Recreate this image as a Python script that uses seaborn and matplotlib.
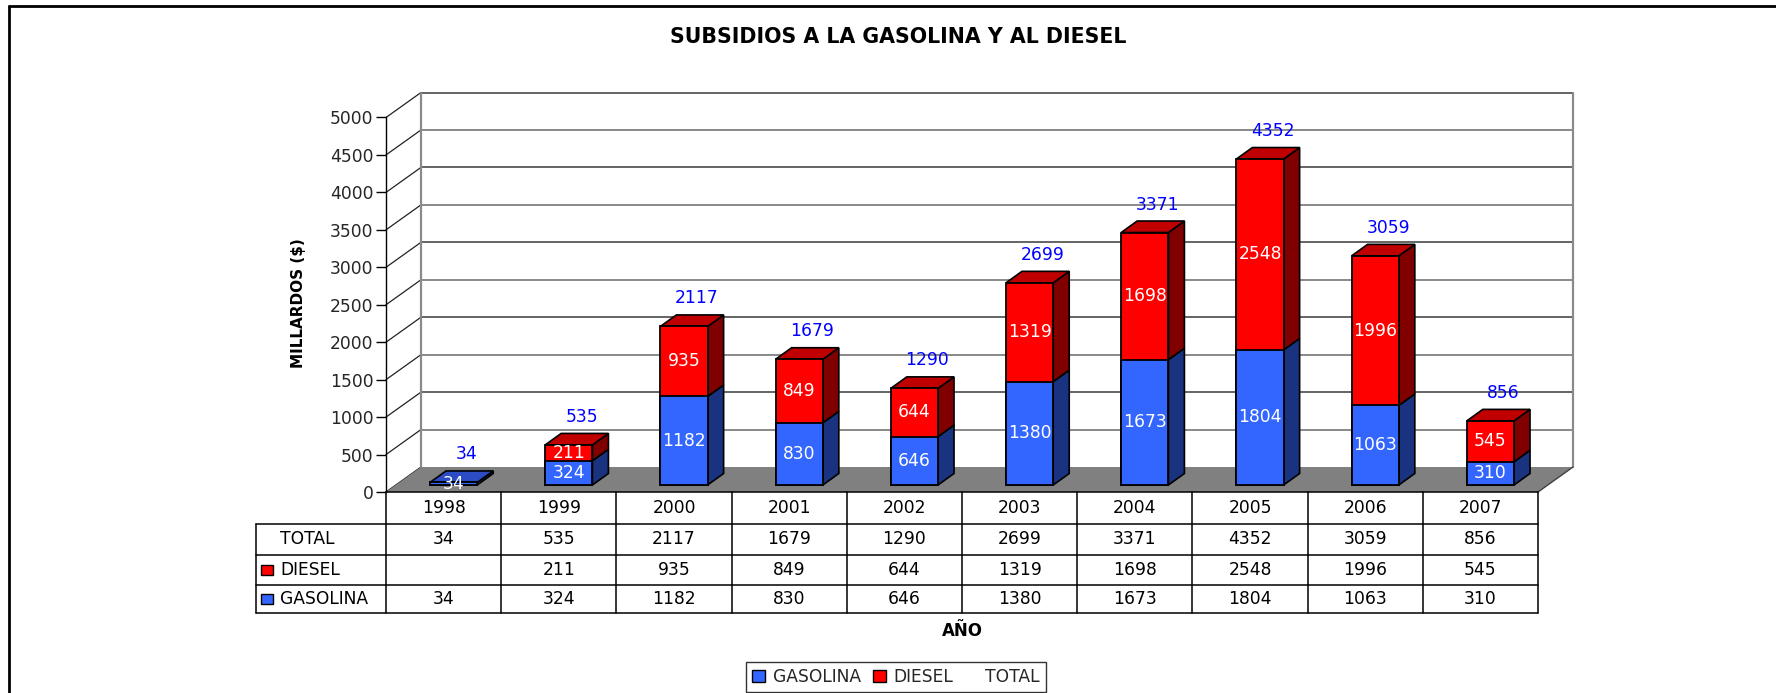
import numpy as np
import pandas as pd
import matplotlib
matplotlib.use("Agg")
import matplotlib.pyplot as plt
import seaborn as sns
from matplotlib.patches import Polygon, Patch, Rectangle
from matplotlib.lines import Line2D
import matplotlib.transforms as mtransforms

# ---------------- data ----------------
years = ["1998", "1999", "2000", "2001", "2002", "2003", "2004", "2005", "2006", "2007"]
gasolina = [34, 324, 1182, 830, 646, 1380, 1673, 1804, 1063, 310]
diesel = [0, 211, 935, 849, 644, 1319, 1698, 2548, 1996, 545]
total = [34, 535, 2117, 1679, 1290, 2699, 3371, 4352, 3059, 856]
yticks = list(range(0, 5001, 500))

# ---------------- style ----------------
sns.set_theme(style="white")
plt.rcParams["font.family"] = ["DejaVu Sans"]

W, H = 1776, 693
fig = plt.figure(figsize=(W / 100, H / 100), dpi=100)


def fx(px):
    return px / W


def fy(py):
    return 1 - py / H


# front plane of the plot area (pixels)
X0, X1 = 386, 1538
Y0, Y1 = 492, 117.5
ax = fig.add_axes([fx(X0), fy(Y0), fx(X1) - fx(X0), fy(Y1) - fy(Y0)])
ax.set_xlim(-0.5, 9.5)
ax.set_ylim(0, 5000)
ax.patch.set_alpha(0)

cat_px = (X1 - X0) / 10.0
val_px = (Y0 - Y1) / 5000.0
DX = 35 / cat_px          # floor depth in category units
DY = 25 / val_px          # floor depth in value units
BDX = 16 / cat_px         # bar depth
BDY = 11.5 / val_px
FOX, FOY = 10 / 100, 7 / 100   # front-face offset of bars (inches)

FS = 12.3

for s in ["top", "right", "bottom"]:
    ax.spines[s].set_visible(False)
ax.spines["left"].set_color("black")
ax.spines["left"].set_linewidth(1.0)
ax.set_yticks(yticks)
ax.set_yticklabels([str(v) for v in yticks], fontsize=FS)
ax.tick_params(axis="y", direction="out", length=7, width=1, color="black", pad=2, left=True)
ax.set_xticks([])
ax.set_xlabel("")
ax.set_ylabel("")

# floor
floor = Polygon([(-0.5, 0), (9.5, 0), (9.5 + DX, DY), (-0.5 + DX, DY)], closed=True,
                facecolor="#808080", edgecolor="none", zorder=0.5, clip_on=False)
ax.add_patch(floor)
ax.plot([9.5, 9.5 + DX], [0, DY], color="#404040", lw=1, clip_on=False, zorder=0.6)

# back wall gridlines + side wall diagonals
for i, v in enumerate(yticks):
    if v > 0:
        ax.plot([-0.5 + DX, 9.5 + DX], [v + DY, v + DY],
                color="#3a3a3a" if i % 2 == 0 else "#6a6a6a", lw=1.1, clip_on=False, zorder=0.4)
    ax.plot([-0.5, -0.5 + DX], [v, v + DY], color="#222222", lw=0.9, clip_on=False, zorder=0.4)
ax.plot([-0.5 + DX, -0.5 + DX], [DY, 5000 + DY], color="#8a8a8a", lw=1.6, clip_on=False, zorder=0.4)
ax.plot([9.5 + DX, 9.5 + DX], [DY, 5000 + DY], color="#8a8a8a", lw=1.6, clip_on=False, zorder=0.4)

# bars (front faces) through seaborn
df = pd.DataFrame({"year": years, "gasolina": gasolina, "diesel": diesel, "total": total})
BW = 0.41
sns.barplot(data=df, x="year", y="total", color="#FF0000", saturation=1, width=BW,
            edgecolor="black", linewidth=1.3, ax=ax, zorder=2)
sns.barplot(data=df, x="year", y="gasolina", color="#3366FF", saturation=1, width=BW,
            edgecolor="black", linewidth=1.3, ax=ax, zorder=2.1)
ax.set_xlim(-0.5, 9.5)
ax.set_ylim(0, 5000)
ax.set_xticks([])
ax.set_xlabel("")
ax.set_ylabel("")

off = mtransforms.ScaledTranslation(FOX, FOY, fig.dpi_scale_trans)
tr = ax.transData + off
red_bars = list(ax.containers[0])
blue_bars = list(ax.containers[1])
for p in red_bars + blue_bars:
    p.set_transform(tr)
    p.set_clip_on(False)


def side(xr, y0, y1, color):
    return Polygon([(xr, y0), (xr + BDX, y0 + BDY), (xr + BDX, y1 + BDY), (xr, y1)], closed=True,
                   facecolor=color, edgecolor="black", linewidth=1.2, transform=tr,
                   clip_on=False, zorder=1.9)


for i, (rb, bb) in enumerate(zip(red_bars, blue_bars)):
    xl = bb.get_x()
    xr = xl + bb.get_width()
    g = bb.get_height()
    t = rb.get_height()
    ax.add_patch(side(xr, 0, g, "#1A3380"))
    if diesel[i] > 0:
        ax.add_patch(side(xr, g, t, "#800000"))
    top_col = "#C00000" if diesel[i] > 0 else "#2B4CC4"
    ax.add_patch(Polygon([(xl, t), (xr, t), (xr + BDX, t + BDY), (xl + BDX, t + BDY)], closed=True,
                         facecolor=top_col, edgecolor="black", linewidth=1.2, transform=tr,
                         clip_on=False, zorder=1.9))
    xc = xl + bb.get_width() / 2
    # segment labels
    ax.text(xc, g / 2, str(gasolina[i]), transform=tr, ha="center", va="center",
            color="white", fontsize=FS, zorder=5, clip_on=False)
    if diesel[i] > 0:
        ax.text(xc, g + diesel[i] / 2, str(diesel[i]), transform=tr, ha="center", va="center",
                color="white", fontsize=FS, zorder=5, clip_on=False)
    # total label
    toff = ax.transData + mtransforms.ScaledTranslation(FOX + 0.13, FOY + 0.28, fig.dpi_scale_trans)
    ax.text(xc, total[i], str(total[i]), transform=toff, ha="center", va="center",
            color="#0000FF", fontsize=FS, zorder=5, clip_on=False)

# ---------------- data table ----------------
bt = mtransforms.blended_transform_factory(ax.transData, fig.transFigure)
TL = 256  # table left px
xleft = -0.5 - (X0 - TL) / cat_px
rows_px = [492, 523.5, 555, 585, 613]
lk = dict(color="black", lw=1.1, transform=bt, clip_on=False)
# horizontal lines
fig.add_artist(Line2D([-0.5, 9.5], [fy(rows_px[0])] * 2, **lk))
for r in rows_px[1:]:
    fig.add_artist(Line2D([xleft, 9.5], [fy(r)] * 2, **lk))
# vertical lines
for k in range(11):
    fig.add_artist(Line2D([-0.5 + k, -0.5 + k], [fy(rows_px[0]), fy(rows_px[-1])], **lk))
fig.add_artist(Line2D([xleft, xleft], [fy(rows_px[1]), fy(rows_px[-1])], **lk))

row_vals = [years, [str(v) for v in total], [str(v) if v > 0 else "" for v in diesel],
            [str(v) for v in gasolina]]
for r, vals in enumerate(row_vals):
    yc = fy((rows_px[r] + rows_px[r + 1]) / 2)
    for k, s in enumerate(vals):
        fig.text(k, yc, s, transform=bt, ha="center", va="center", fontsize=FS, color="black")

row_names = ["TOTAL", "DIESEL", "GASOLINA"]
row_cols = [None, "#FF0000", "#3366FF"]
for r, (name, c) in enumerate(zip(row_names, row_cols)):
    ycp = (rows_px[r + 1] + rows_px[r + 2]) / 2
    fig.text(fx(280), fy(ycp), name, ha="left", va="center", fontsize=FS, color="black")
    if c is not None:
        fig.add_artist(Rectangle((fx(261), fy(ycp + 5)), fx(12), (10 / H), facecolor=c,
                                 edgecolor="black", lw=1.0, transform=fig.transFigure))

# ---------------- titles ----------------
fig.text(fx(898), fy(37), "SUBSIDIOS A LA GASOLINA Y AL DIESEL", ha="center", va="center",
         fontsize=14.8, fontweight="bold", color="black")
fig.text(fx(298), fy(303), "MILLARDOS ($)", ha="center", va="center", rotation=90,
         fontsize=11, fontweight="bold", color="black")
fig.text(fx(962), fy(631), "AÑO", ha="center", va="center", fontsize=12,
         fontweight="bold", color="black")

# ---------------- legend ----------------
handles = [Patch(facecolor="#3366FF", edgecolor="black", lw=1.0),
           Patch(facecolor="#FF0000", edgecolor="black", lw=1.0),
           Patch(facecolor="none", edgecolor="none")]
leg = fig.legend(handles, ["GASOLINA", "DIESEL", "TOTAL"], loc="upper center",
                 bbox_to_anchor=(fx(896), fy(662)), ncol=3, frameon=True, fancybox=False,
                 fontsize=FS, handlelength=0.75, handleheight=0.75, handletextpad=0.45,
                 columnspacing=0.7, borderpad=0.35, borderaxespad=0)
leg.get_frame().set_edgecolor("black")
leg.get_frame().set_linewidth(1.0)

# outer frame (left and top)
fig.add_artist(Line2D([fx(9), fx(9)], [0, fy(6)], color="black", lw=2, transform=fig.transFigure))
fig.add_artist(Line2D([fx(9), 1], [fy(6), fy(6)], color="black", lw=2, transform=fig.transFigure))

fig.savefig("out.png", dpi=100, facecolor="white")
